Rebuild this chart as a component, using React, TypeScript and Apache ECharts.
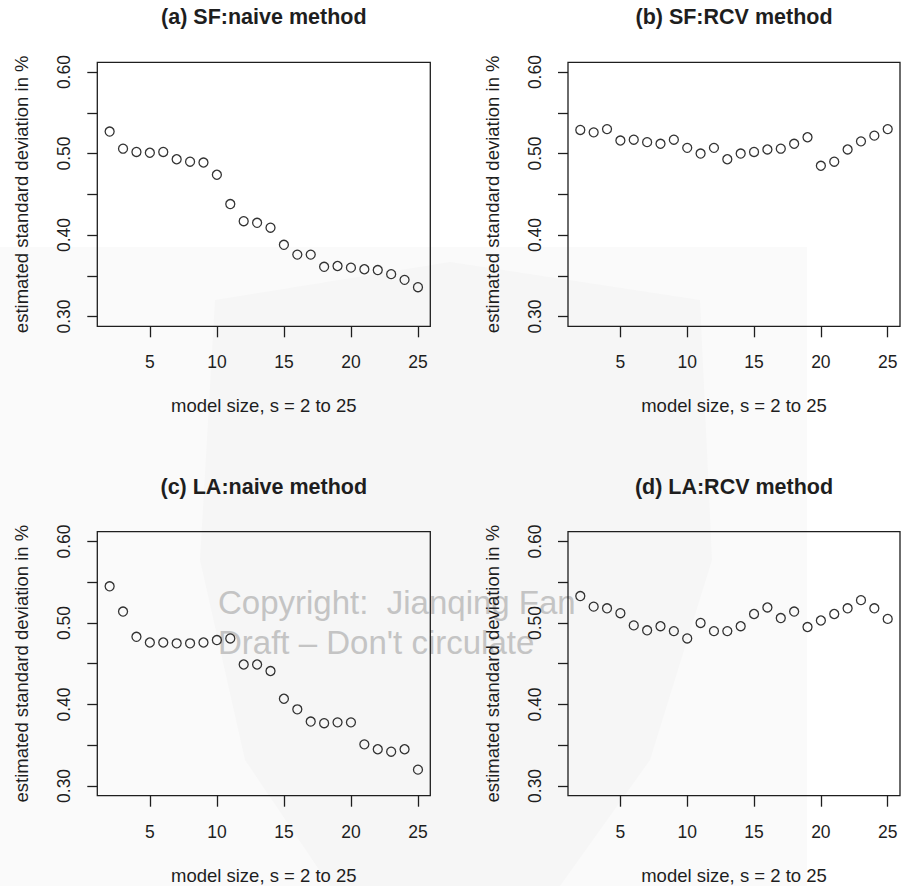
import React, { useEffect, useRef } from "react";
import * as echarts from "echarts";

const modelSizes = [2, 3, 4, 5, 6, 7, 8, 9, 10, 11, 12, 13, 14, 15, 16, 17, 18, 19, 20, 21, 22, 23, 24, 25];

const sfNaive = [0.527, 0.506, 0.502, 0.501, 0.502, 0.493, 0.490, 0.489, 0.474, 0.438, 0.417, 0.415, 0.409, 0.388, 0.376, 0.376, 0.361, 0.362, 0.360, 0.358, 0.357, 0.352, 0.345, 0.336];
const sfRcv = [0.529, 0.526, 0.530, 0.516, 0.517, 0.514, 0.512, 0.517, 0.507, 0.500, 0.507, 0.493, 0.500, 0.502, 0.505, 0.506, 0.512, 0.520, 0.485, 0.490, 0.505, 0.515, 0.522, 0.530];
const laNaive = [0.545, 0.514, 0.483, 0.476, 0.476, 0.475, 0.475, 0.476, 0.479, 0.481, 0.449, 0.449, 0.441, 0.407, 0.394, 0.379, 0.377, 0.378, 0.378, 0.351, 0.345, 0.342, 0.345, 0.320];
const laRcv = [0.533, 0.520, 0.518, 0.512, 0.497, 0.491, 0.496, 0.490, 0.481, 0.500, 0.490, 0.490, 0.496, 0.511, 0.519, 0.506, 0.514, 0.495, 0.503, 0.511, 0.518, 0.528, 0.518, 0.505];

const panelTitles = ["(a) SF:naive method", "(b) SF:RCV method", "(c) LA:naive method", "(d) LA:RCV method"];
const panelData = [sfNaive, sfRcv, laNaive, laRcv];

const xTickValues = [5, 10, 15, 20, 25];
const yTickValues = [0.3, 0.35, 0.4, 0.45, 0.5, 0.55, 0.6];
const yLabelValues = [0.3, 0.4, 0.5, 0.6];

const xAxisTitle = "model size, s = 2 to 25";
const yAxisTitle = "estimated standard deviation in %";
const watermark1 = "Copyright:  Jianqing Fan";
const watermark2 = "Draft \u2013 Don't circulate";

const FONT = "'Liberation Sans', Arial, Helvetica, sans-serif";
const INK = "#1e1e1e";

export default function App() {
  const ref = useRef<HTMLDivElement>(null);

  useEffect(() => {
    if (!ref.current) return;
    const chart = echarts.init(ref.current, undefined, { renderer: "svg" });

    const lefts = [97.3, 568, 97.3, 568];
    const widths = [333, 332, 333, 332];
    const tops = [62.3, 62.3, 531.7, 531.7];
    const height = 264;

    const grids = lefts.map((l, i) => ({
      left: l,
      top: tops[i],
      width: widths[i],
      height,
      show: true,
      borderColor: INK,
      borderWidth: 1.3,
      backgroundColor: "transparent",
      containLabel: false,
    }));

    const xAxes = panelData.map((_, i) => ({
      type: "value",
      gridIndex: i,
      min: 1.08,
      max: 25.92,
      splitLine: { show: false },
      axisLine: { show: false },
      axisTick: {
        show: true,
        inside: false,
        length: 11,
        customValues: xTickValues,
        lineStyle: { color: INK, width: 1.3 },
      },
      axisLabel: {
        show: true,
        customValues: xTickValues,
        margin: 27,
        fontSize: 17.5,
        fontFamily: FONT,
        color: INK,
        formatter: (v: number) => String(v),
      },
      name: xAxisTitle,
      nameLocation: "middle",
      nameGap: 70,
      nameTextStyle: { fontSize: 18.5, fontFamily: FONT, color: INK },
    }));

    const yAxes = panelData.map((_, i) => ({
      type: "value",
      gridIndex: i,
      min: 0.288,
      max: 0.612,
      splitLine: { show: false },
      axisLine: { show: false },
      axisTick: {
        show: true,
        inside: false,
        length: 10,
        customValues: yTickValues,
        lineStyle: { color: INK, width: 1.3 },
      },
      axisLabel: {
        show: true,
        customValues: yLabelValues,
        rotate: 90,
        margin: 24,
        fontSize: 17.5,
        fontFamily: FONT,
        color: INK,
        formatter: (v: number) => v.toFixed(2),
      },
      name: yAxisTitle,
      nameLocation: "middle",
      nameRotate: 90,
      nameGap: 66,
      nameTextStyle: { fontSize: 18.5, fontFamily: FONT, color: INK },
    }));

    const series = panelData.map((vals, i) => ({
      type: "scatter",
      xAxisIndex: i,
      yAxisIndex: i,
      symbol: "circle",
      symbolSize: 9,
      itemStyle: { color: "rgba(255,255,255,0)", borderColor: "#000", borderWidth: 1.3 },
      emphasis: { disabled: true },
      data: modelSizes.map((s, k) => [s, vals[k]]),
      z: 5,
    }));

    const titles = panelTitles.map((t, i) => ({
      text: t,
      left: lefts[i] + widths[i] / 2,
      top: i < 2 ? 6 : 475.5,
      textAlign: "center",
      padding: 0,
      textStyle: { fontSize: 21.5, fontWeight: "bold", fontFamily: FONT, color: INK },
    }));

    chart.setOption({
      animation: false,
      backgroundColor: "#ffffff",
      title: titles,
      grid: grids,
      xAxis: xAxes,
      yAxis: yAxes,
      series,
      graphic: [
        {
          type: "rect",
          z: -10,
          silent: true,
          shape: { x: 0, y: 247, width: 807, height: 639 },
          style: { fill: "#fafafa" },
        },
        {
          type: "polygon",
          z: -9,
          silent: true,
          shape: {
            points: [
              [215, 300], [450, 262], [700, 300], [712, 560], [650, 760], [560, 886], [330, 886], [245, 760], [200, 560],
            ],
          },
          style: { fill: "#f6f6f6" },
        },
        {
          type: "text",
          z: -8,
          silent: true,
          x: 218,
          y: 602,
          style: {
            text: watermark1,
            fontSize: 33,
            fontFamily: FONT,
            fill: "#c4c4c4",
            textVerticalAlign: "middle",
          },
        },
        {
          type: "text",
          z: -8,
          silent: true,
          x: 218,
          y: 642,
          style: {
            text: watermark2,
            fontSize: 33,
            fontFamily: FONT,
            fill: "#c4c4c4",
            textVerticalAlign: "middle",
          },
        },
      ],
    });

    return () => chart.dispose();
  }, []);

  return (
    <div
      ref={ref}
      style={{ position: "absolute", left: 0, top: 0, width: 901, height: 886 }}
    />
  );
}
